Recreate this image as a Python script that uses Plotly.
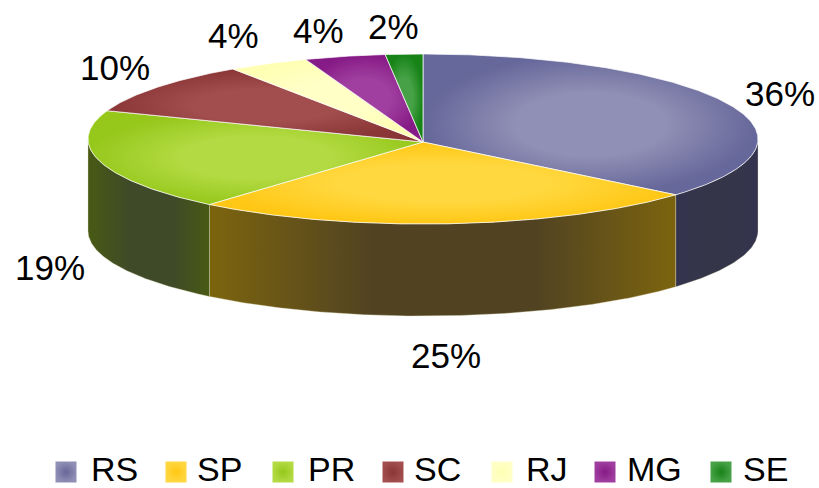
import numpy as np
import plotly.graph_objects as go

categories = ["RS", "SP", "PR", "SC", "RJ", "MG", "SE"]
values = [36.4, 24.6, 19.4, 10.0, 3.9, 3.9, 1.8]

top_inner = ["#908fb5", "#ffd83f", "#b3da42", "#a34e4e", "#ffffc6", "#a03fa0", "#47a247"]
top_outer = ["#66679a", "#ffc715", "#96c81c", "#8a3636", "#ffffb4", "#861a86", "#178317"]
wall_inner = ["#35354a", "#514322", "#3e4a28"]
wall_outer = ["#33334f", "#7c640e", "#485a14"]
label_xy = [(780, 93), (446, 355), (50, 267), (115, 67), (233, 35), (318, 30), (393, 26)]
legend_marker_x = [66, 176, 283, 393, 502, 605, 721]
legend_text_x = [89, 195, 306, 412, 524, 625, 741]
LEGEND_MARKER_Y = 472
LEGEND_TEXT_Y = 469

CX, CY, HUB_Y, RX, RY, DEPTH = 423, 139, 142, 335, 85, 92


def arc(a0, a1, dy=0):
    t = np.radians(np.linspace(a0, a1, max(int(abs(a1 - a0)) * 2, 2)))
    return CX + RX * np.sin(t), CY + dy - RY * np.cos(t)


fig = go.Figure()
cum = np.concatenate([[0], np.cumsum(values)]) / sum(values) * 360

# side walls (only the front half of the disc is visible)
for i in range(3):
    a0, a1 = max(cum[i], 90), min(cum[i + 1], 270)
    xt, yt = arc(a0, a1)
    xb, yb = arc(a1, a0, DEPTH)
    fig.add_trace(go.Scatter(
        x=np.r_[xt, xb, xt[0]], y=np.r_[yt, yb, yt[0]], mode="lines",
        line=dict(color="rgba(225,220,190,0.6)", width=0.6), fill="toself",
        fillgradient=dict(type="horizontal",
                          colorscale=[[0, wall_outer[i]], [0.35, wall_inner[i]],
                                      [0.7, wall_inner[i]], [1, wall_outer[i]]]),
        hoverinfo="skip", showlegend=False))

# top faces
for i in range(len(values)):
    xa, ya = arc(cum[i], cum[i + 1])
    fig.add_trace(go.Scatter(
        x=np.r_[CX, xa, CX], y=np.r_[HUB_Y, ya, HUB_Y], mode="lines",
        line=dict(color="white", width=0.7), fill="toself",
        fillgradient=dict(type="radial",
                          colorscale=[[0, top_inner[i]], [0.45, top_inner[i]], [1, top_outer[i]]]),
        hoverinfo="skip", showlegend=False))

# legend drawn at the reference's item positions (native legend caps marker size)
for i, c in enumerate(categories):
    fig.add_trace(go.Scatter(
        x=[legend_marker_x[i]], y=[LEGEND_MARKER_Y], mode="markers", name=c, showlegend=False,
        hoverinfo="name",
        marker=dict(symbol="square", size=21, color=top_inner[i],
                    gradient=dict(type="radial", color=top_outer[i]))))
    fig.add_annotation(x=legend_text_x[i], y=LEGEND_TEXT_Y, xref="x", yref="y", text=c,
                       xanchor="left", showarrow=False,
                       font=dict(family="Liberation Sans", size=34, color="black"))

for v, (lx, ly) in zip(values, label_xy):
    fig.add_annotation(x=lx, y=ly, xref="x", yref="y", text=f"{v:.0f}%", showarrow=False,
                       font=dict(family="Liberation Sans", size=35, color="black"))

fig.update_layout(
    width=819, height=488, margin=dict(l=0, r=0, t=0, b=0),
    paper_bgcolor="white", plot_bgcolor="white", showlegend=False,
    xaxis=dict(range=[0, 819], visible=False, fixedrange=True),
    yaxis=dict(range=[488, 0], visible=False, fixedrange=True),
    font=dict(family="Liberation Sans", color="black"),
)
fig.write_html("out.html", config={"displayModeBar": False},
               post_script="document.body.style.margin='0';document.body.style.overflow='hidden';")
